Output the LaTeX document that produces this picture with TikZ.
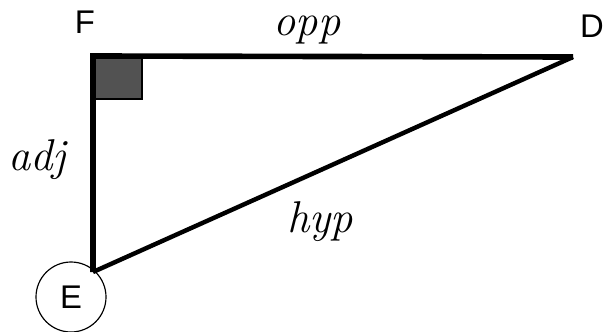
\documentclass[tikz,border=0pt]{standalone}
\usepackage{fontspec}
\newfontfamily\vertexfont{Liberation Sans}
\usetikzlibrary{arrows.meta, calc, positioning}

\begin{document}
\begin{tikzpicture}[x=0.03cm, y=-0.03cm,
    leg/.style={line width=4.8pt, line join=miter},
    hypline/.style={line width=3.8pt},
    vertex/.style={font=\vertexfont\fontsize{28}{32}\selectfont, inner sep=0pt},
    hand/.style={font=\fontsize{38}{42}\selectfont\itshape, inner sep=0pt}
  ]
  \useasboundingbox (0,0) rectangle (603,332);
  \coordinate (F) at (93,56);
  \coordinate (D) at (573,57);
  \coordinate (E) at (93,272);
  \coordinate (S) at (142,99);

  \filldraw[fill=black!68, line width=2pt] (F) rectangle (S);   % right angle
  \draw[leg] (E) -- (F) -- (D);
  \draw[hypline] (E) -- (D);

  \node[vertex] (lF) at (85,22) {F};
  \node[vertex] (lD) at (592,26) {D};
  \node[vertex, draw, circle, line width=1pt, minimum size=2.1cm] (lE) at (71,297) {E};

  \node[hand] (opp) at (307,30) {opp};
  \node[hand] (hyp) at (320,222) {hyp};
  \node[hand] (adj) at (37,160) {adj};
\end{tikzpicture}
\end{document}
